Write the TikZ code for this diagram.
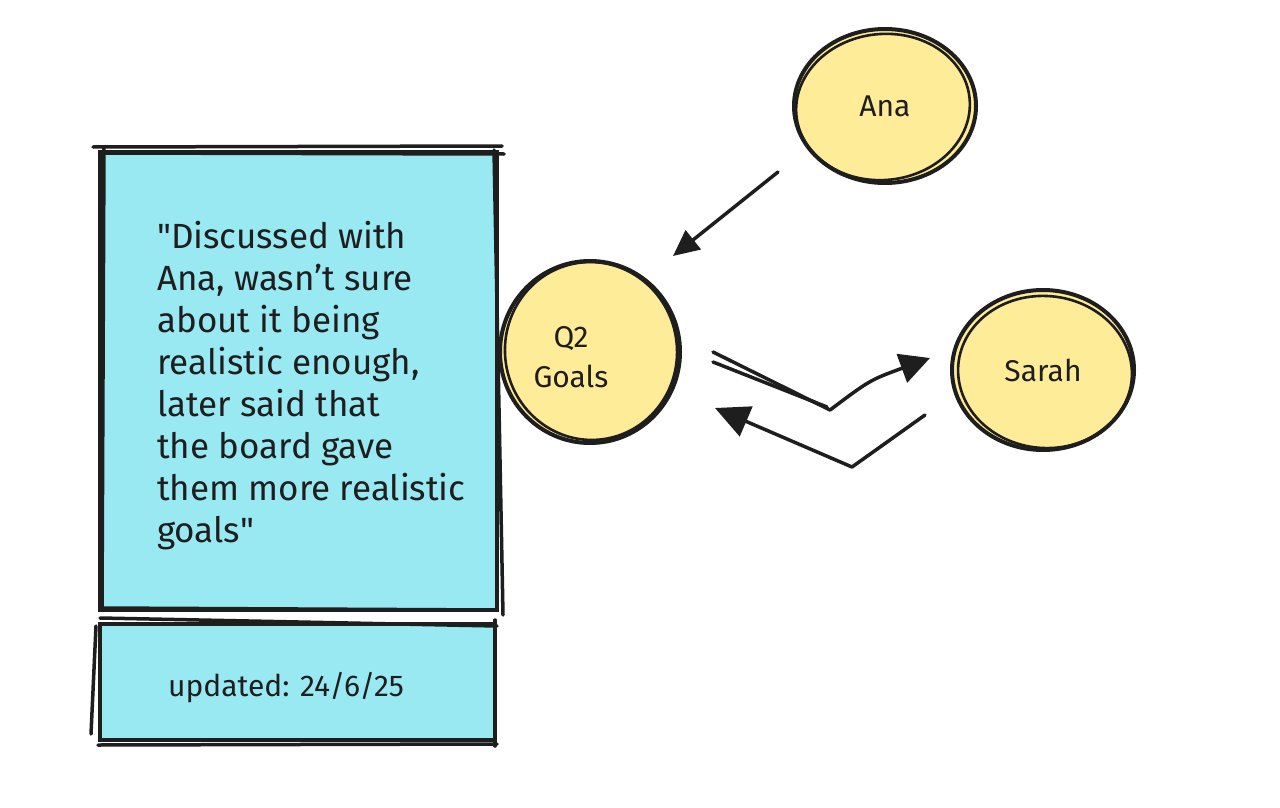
\documentclass[tikz,border=0pt]{standalone}
\usepackage{fontspec}
\setmainfont{Fira Sans}
\usetikzlibrary{arrows.meta,shapes.geometric,calc}
\definecolor{ink}{HTML}{1E1E1E}
\definecolor{cyanfill}{HTML}{99E9F2}
\definecolor{yellowfill}{HTML}{FFEC99}
\tikzset{
  notebox/.style={rectangle, draw=ink, fill=cyanfill, line width=4pt, inner sep=0pt},
  person/.style={ellipse, draw=ink, fill=yellowfill, line width=4pt, inner sep=0pt, font=\fontsize{30}{40}\selectfont, text=ink, align=center},
  sk/.style={draw=ink, line width=3.5pt, line cap=round, line join=round},
  skthin/.style={draw=ink, line width=2.6pt, line cap=round, line join=round},
  arr/.style={draw=ink, line width=3.5pt, line cap=round, line join=round},
}
\begin{document}
\begin{tikzpicture}[x=1pt,y=-1pt]
\useasboundingbox (0,0) rectangle (1280,808);
\fill[white] (0,0) rectangle (1280,808);

% persons
\node[person, minimum width=180pt, minimum height=182pt] (q2) at (590,352) {};
\draw[skthin] ($(q2.center)+(1,-1)$) [rotate around={8:($(q2.center)+(1,-1)$)}] ellipse [x radius=86pt, y radius=89pt];
\node[font=\fontsize{30}{40}\selectfont, text=ink, align=center] (q2text) at (571,357) {Q2\\Goals};

\node[person, minimum width=182pt, minimum height=154pt] (ana) at (885,106) {Ana};
\draw[skthin] ($(ana.center)+(-2,1)$) [rotate around={6:($(ana.center)+(-2,1)$)}] ellipse [x radius=87pt, y radius=73pt];

\node[person, minimum width=182pt, minimum height=160pt] (sarah) at (1043,370) {Sarah};
\draw[skthin] ($(sarah.center)+(2,2)$) [rotate around={-5:($(sarah.center)+(2,2)$)}] ellipse [x radius=87pt, y radius=76pt];

% note boxes
\node[notebox, minimum width=397pt, minimum height=458pt] (note) at (298.5,381) {};
\draw[sk] ($(note.north west)+(-5,-3)$) -- ($(note.north east)+(3,-4)$);
\draw[sk] ($(note.north west)+(2,3)$) -- ($(note.north east)+(5,4)$);
\draw[sk] ($(note.north west)+(6,-3)$) -- ($(note.south west)+(4,-2)$);
\draw[sk] ($(note.north east)+(-5,0)$) -- ($(note.south east)+(4,3)$);
\draw[sk] ($(note.south west)+(3,-4)$) -- ($(note.south east)+(-2,-2)$);
\node[anchor=north west, align=left, text=ink, font=\fontsize{35}{42}\selectfont, inner sep=0pt] (notetext) at (157,221)
{\textquotedbl Discussed with\\Ana, wasn't sure\\about it being\\realistic enough,\\later said that\\the board gave\\them more realistic\\goals\textquotedbl};

\node[notebox, minimum width=395pt, minimum height=116pt] (upd) at (297.5,682) {};
\draw[sk] ($(upd.north west)+(2,-4)$) -- ($(upd.north east)+(0,4)$);
\draw[sk] ($(upd.north west)+(-2,4)$) -- ($(upd.south west)+(-7,-8)$);
\draw[sk] ($(upd.north east)+(-2,-2)$) -- ($(upd.south east)+(-2,4)$);
\draw[sk] ($(upd.south west)+(0,3)$) -- ($(upd.south east)+(0,2)$);
\node[text=ink, font=\fontsize{30}{36}\selectfont] (updtext) at (286,688) {updated: 24/6/25};

% connectors
\coordinate (a1) at ($(ana.center)+(-107,66)$);
\coordinate (a2) at ($(q2.center)+(83,-96)$);
\draw[arr, -{Triangle[length=26pt,width=24pt]}] (a1) -- (a2);

\coordinate (b1) at ($(q2.center)+(123,0)$);
\coordinate (b2) at ($(q2.center)+(240,58)$);
\coordinate (b3) at ($(sarah.center)+(-113,-12)$);
\draw[arr] ($(b1)+(0,10)$) -- ($(b2)+(-3,-3)$);
\draw[arr, -{Triangle[length=30pt,width=30pt]}] (b1) -- (b2) .. controls ($(b2)+(40,-30)$) .. (b3);

\coordinate (c1) at ($(sarah.center)+(-118,45)$);
\coordinate (c2) at ($(sarah.center)+(-191,97)$);
\coordinate (c3) at ($(q2.center)+(125,56)$);
\draw[arr, -{Triangle[length=34pt,width=32pt]}] (c1) -- (c2) -- (c3);
\end{tikzpicture}
\end{document}
